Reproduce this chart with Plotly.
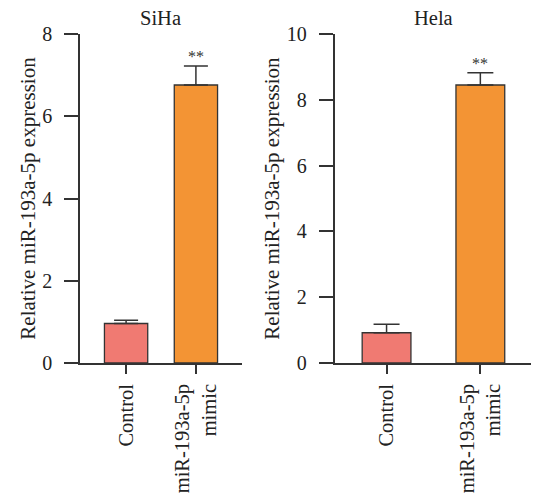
import plotly.graph_objects as go

categories = ["Control", "miR-193a-5p<br>mimic"]
siha_values = [0.96, 6.76]
siha_err = [0.08, 0.46]
hela_values = [0.92, 8.45]
hela_err = [0.26, 0.37]
siha_ticks = [0, 2, 4, 6, 8]
hela_ticks = [0, 2, 4, 6, 8, 10]
bar_colors = ["#F07A72", "#F39434"]
sig_labels = ["", "**"]

FONT = "Liberation Serif"
LINE = "#333333"
W, H = 533, 499

fig = go.Figure()
fig.add_trace(go.Bar(
    x=categories, y=siha_values, width=0.62,
    marker=dict(color=bar_colors, line=dict(color=LINE, width=1.3)),
    error_y=dict(type="data", array=siha_err, arrayminus=[0, 0], symmetric=False,
                 color=LINE, thickness=1.5, width=12),
    xaxis="x", yaxis="y", showlegend=False))
fig.add_trace(go.Bar(
    x=categories, y=hela_values, width=0.52,
    marker=dict(color=bar_colors, line=dict(color=LINE, width=1.3)),
    error_y=dict(type="data", array=hela_err, arrayminus=[0, 0], symmetric=False,
                 color=LINE, thickness=1.5, width=13),
    xaxis="x2", yaxis="y2", showlegend=False))

anns = []
for i, c in enumerate(categories):
    if sig_labels[i]:
        anns.append(dict(x=c, y=siha_values[i] + siha_err[i], xref="x", yref="y",
                         text=sig_labels[i], showarrow=False, yanchor="bottom", yshift=-1,
                         font=dict(family=FONT, size=16, color="#333")))
        anns.append(dict(x=c, y=hela_values[i] + hela_err[i], xref="x2", yref="y2",
                         text=sig_labels[i], showarrow=False, yanchor="bottom", yshift=-1,
                         font=dict(family=FONT, size=16, color="#333")))
anns.append(dict(text="SiHa", x=160.5 / W, y=1 - 18 / H, xref="paper", yref="paper",
                 xanchor="center", yanchor="middle",
                 showarrow=False, font=dict(family=FONT, size=20.5, color="#222")))
anns.append(dict(text="Hela", x=433 / W, y=1 - 18 / H, xref="paper", yref="paper",
                 xanchor="center", yanchor="middle",
                 showarrow=False, font=dict(family=FONT, size=20.5, color="#222")))

ydom = [(H - 363) / H, (H - 34) / H]
common_x = dict(type="category", showline=True, linecolor=LINE, linewidth=1.5,
                ticks="outside", ticklen=9, tickwidth=1.5, tickcolor=LINE,
                tickangle=-90, showgrid=False, zeroline=False, automargin=False,
                ticklabelstandoff=2,
                tickfont=dict(family=FONT, size=20.5, color="#222"))
common_y = dict(showline=True, linecolor=LINE, linewidth=1.5,
                ticks="outside", ticklen=14, tickwidth=1.5, tickcolor=LINE,
                showgrid=False, zeroline=False, automargin=False,
                ticklabelstandoff=8,
                tickfont=dict(family=FONT, size=20, color="#222"),
                title=dict(text="Relative miR-193a-5p expression",
                           font=dict(family=FONT, size=21, color="#222"), standoff=1))

fig.update_layout(
    template="none",
    width=W, height=H,
    margin=dict(l=0, r=0, t=0, b=0, pad=0, autoexpand=False),
    paper_bgcolor="white", plot_bgcolor="white",
    xaxis=dict(common_x, domain=[80 / W, 242 / W], range=[-0.66, 1.66], anchor="y"),
    yaxis=dict(common_y, domain=ydom, range=[0, 8], tickvals=siha_ticks, anchor="x"),
    xaxis2=dict(common_x, domain=[334.5 / W, 531 / W], range=[-0.555, 1.54], anchor="y2"),
    yaxis2=dict(common_y, domain=ydom, range=[0, 10], tickvals=hela_ticks, anchor="x2"),
    annotations=anns,
)

fig.write_html("out.html", config={"displayModeBar": False},
               post_script="document.body.style.margin='0';")
